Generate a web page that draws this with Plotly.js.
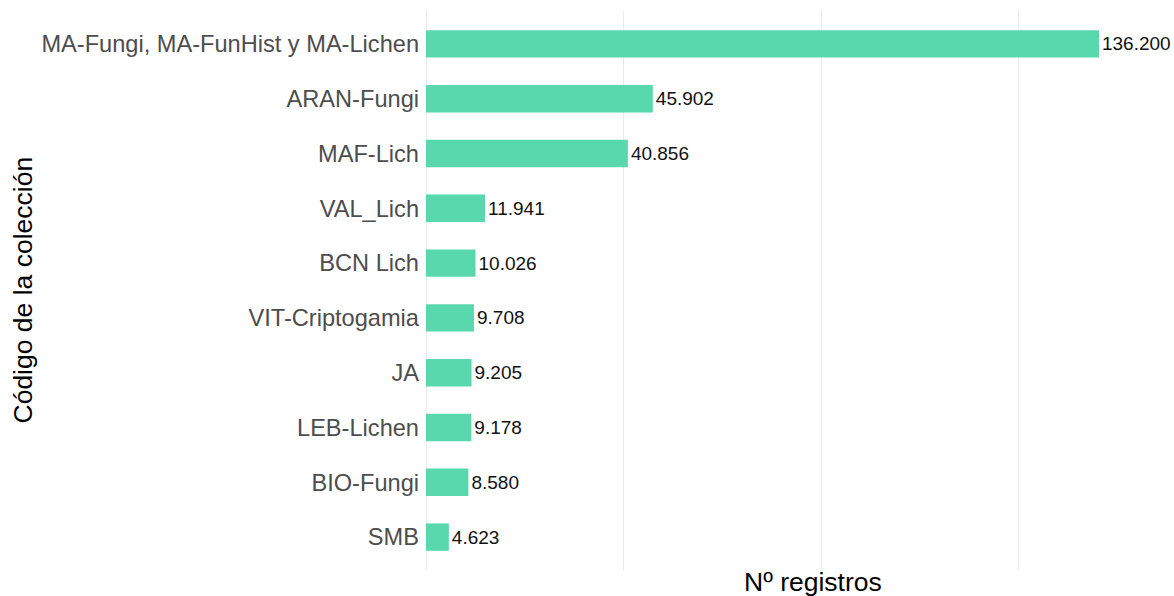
<!DOCTYPE html>
<html>
<head>
<meta charset="utf-8">
<script src="https://cdn.plot.ly/plotly-3.0.1.min.js"></script>
<style>
  html, body { margin: 0; padding: 0; background: #ffffff; }
  #chart { width: 1174px; height: 596px; }
</style>
</head>
<body>
<div id="chart"></div>
<script>
// Categories (top to bottom) and number of records
const collections = [
  "MA-Fungi, MA-FunHist y MA-Lichen",
  "ARAN-Fungi",
  "MAF-Lich",
  "VAL_Lich",
  "BCN Lich",
  "VIT-Criptogamia",
  "JA",
  "LEB-Lichen",
  "BIO-Fungi",
  "SMB"
];
const registros = [136200, 45902, 40856, 11941, 10026, 9708, 9205, 9178, 8580, 4623];

const xTitle = "Nº registros";
const yTitle = "Código de la colección";

const FONT = "Liberation Sans, Arial, Helvetica, sans-serif";

const trace = {
  type: "bar",
  orientation: "h",
  x: registros,
  y: collections,
  width: 0.5,
  marker: { color: "#59D8AE", line: { width: 0 } },
  texttemplate: "%{x:,}",
  textposition: "outside",
  constraintext: "none",
  cliponaxis: false,
  textfont: { family: FONT, size: 19, color: "#111111" },
  hoverinfo: "x+y"
};

const layout = {
  width: 1174,
  height: 596,
  separators: ",.",
  paper_bgcolor: "#ffffff",
  plot_bgcolor: "#ffffff",
  margin: { l: 422, r: 0, t: 11, b: 26 },
  showlegend: false,
  font: { family: FONT },
  xaxis: {
    range: [-810, 151380],
    tick0: 0,
    dtick: 40000,
    showticklabels: false,
    ticks: "",
    showgrid: true,
    gridcolor: "#ebebeb",
    gridwidth: 1,
    zeroline: false,
    showline: false,
    fixedrange: true
  },
  yaxis: {
    type: "category",
    categoryorder: "array",
    categoryarray: collections,
    range: [9.6, -0.6],
    showgrid: false,
    zeroline: false,
    showline: false,
    ticks: "",
    ticklabelstandoff: 2,
    tickfont: { family: FONT, size: 23.6, color: "#4d4d4d" },
    fixedrange: true
  },
  annotations: [
    {
      text: xTitle,
      xref: "paper", yref: "paper",
      x: (813 - 422) / 752, y: 0,
      xanchor: "center", yanchor: "top",
      yshift: 5,
      showarrow: false,
      font: { family: FONT, size: 26.5, color: "#000000" }
    },
    {
      text: yTitle,
      xref: "paper", yref: "paper",
      x: (22 - 422) / 752, y: 0.5,
      xanchor: "center", yanchor: "middle",
      textangle: -90,
      showarrow: false,
      font: { family: FONT, size: 26.5, color: "#000000" }
    }
  ]
};

Plotly.newPlot("chart", [trace], layout, { displayModeBar: false, staticPlot: true });
</script>
</body>
</html>
